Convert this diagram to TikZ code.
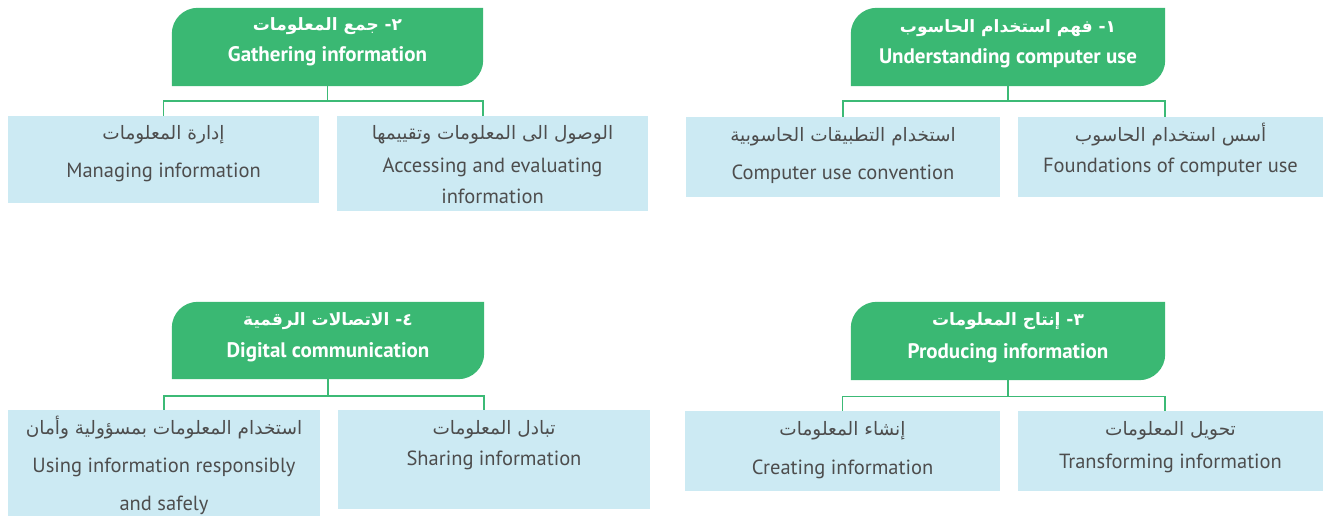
\documentclass[tikz,border=0pt]{standalone}
\usepackage{fontspec}
\setmainfont{PT Sans}
\newfontfamily\arabicfont[Script=Arabic]{DejaVu Sans}
\TeXXeTstate=1
\usetikzlibrary{backgrounds}
\definecolor{hgreen}{RGB}{58,184,115}
\definecolor{lgreen}{RGB}{60,186,118}
\definecolor{cblue}{RGB}{204,234,243}
\definecolor{ctext}{RGB}{77,77,77}
\newcommand\artxt[1]{{\arabicfont\fontsize{18.5}{20}\selectfont\beginR #1\endR}}
\newcommand\arhdr[1]{{\arabicfont\fontsize{17}{19}\selectfont\beginR #1\endR}}
\newcommand\blines[5]{\parbox[c][#2][t]{#1}{\centering\lineskiplimit=-100pt\baselineskip=#4\relax\rule{0pt}{#3}#5\par}}
\newcommand\hdrshape[1]{\fill[hgreen] (#1.south west) -- ([yshift=-26pt]#1.north west) arc[start angle=180,end angle=90,radius=26pt] -- (#1.north east) -- ([yshift=26pt]#1.south east) arc[start angle=0,end angle=-90,radius=26pt] -- cycle;}
\tikzset{
  hdr/.style={inner sep=0pt, text=white, font=\bfseries\fontsize{21}{23}\selectfont},
  child/.style={fill=cblue, inner sep=0pt, text=ctext, font=\fontsize{20.5}{22}\selectfont},
  conn/.style={draw=lgreen, line width=1.5pt}
}
\begin{document}
\begin{tikzpicture}[x=1pt,y=-1pt]
\useasboundingbox (0,0) rectangle (1323,516);
% headers
\node[hdr] (h2) at (327.5,47) {\blines{311pt}{78pt}{23pt}{31pt}{\arhdr{٢\kern0pt- جمع المعلومات}\\Gathering information}};
\node[hdr] (h1) at (1008,47) {\blines{314pt}{78pt}{25pt}{31pt}{\arhdr{١\kern0pt- فهم استخدام الحاسوب}\\Understanding computer use}};
\node[hdr] (h4) at (328,340.5) {\blines{312pt}{77pt}{23pt}{32pt}{\arhdr{٤\kern0pt- الاتصالات الرقمية}\\Digital communication}};
\node[hdr] (h3) at (1008,341) {\blines{314pt}{78pt}{23pt}{33pt}{\arhdr{٣\kern0pt- إنتاج المعلومات}\\Producing information}};
% children top
\node[child] (c21) at (163.5,159.5) {\blines{311pt}{87pt}{24pt}{38pt}{\artxt{إدارة المعلومات}\\Managing information}};
\node[child] (c22) at (492.5,163.5) {\blines{311pt}{95pt}{24pt}{32pt}{\artxt{الوصول الى المعلومات وتقييمها}\\Accessing and evaluating\\information}};
\node[child] (c11) at (843,157) {\blines{314pt}{80pt}{25pt}{38pt}{\artxt{استخدام التطبيقات الحاسوبية}\\Computer use convention}};
\node[child] (c12) at (1170.5,157) {\blines{305pt}{80pt}{25pt}{31pt}{\artxt{أسس استخدام الحاسوب}\\Foundations of computer use}};
% children bottom
\node[child] (c41) at (164,463) {\blines{312pt}{106pt}{24pt}{38pt}{\artxt{استخدام المعلومات بمسؤولية وأمان}\\Using information responsibly\\and safely}};
\node[child] (c42) at (494,459.5) {\blines{312pt}{99pt}{24pt}{31pt}{\artxt{تبادل المعلومات}\\Sharing information}};
\node[child] (c31) at (842.5,451) {\blines{315pt}{80pt}{24pt}{39pt}{\artxt{إنشاء المعلومات}\\Creating information}};
\node[child] (c32) at (1170.5,451) {\blines{305pt}{80pt}{24pt}{33pt}{\artxt{تحويل المعلومات}\\Transforming information}};
% connectors
\coordinate (j2) at ([yshift=-15pt]h2.south);
\coordinate (j1) at ([yshift=-15pt]h1.south);
\coordinate (j4) at ([yshift=-17pt]h4.south);
\coordinate (j3) at ([yshift=-16.5pt]h3.south);
\draw[conn] (h2.south) -- (j2) -| (c21.north);
\draw[conn] (j2) -| (c22.north -| h2.east);
\draw[conn] (h1.south) -- (j1) -| (c11.north);
\draw[conn] (j1) -| (c12.north -| h1.east);
\draw[conn] (h4.south) -- (j4) -| (c41.north);
\draw[conn] (j4) -| (c42.north -| h4.east);
\draw[conn] (h3.south) -- (j3) -| (c31.north);
\draw[conn] (j3) -| (c32.north -| h3.east);
\begin{pgfonlayer}{background}
\fill[white] (0,0) rectangle (1323,516);
\hdrshape{h2}
\hdrshape{h1}
\hdrshape{h4}
\hdrshape{h3}
\end{pgfonlayer}
\end{tikzpicture}
\end{document}
